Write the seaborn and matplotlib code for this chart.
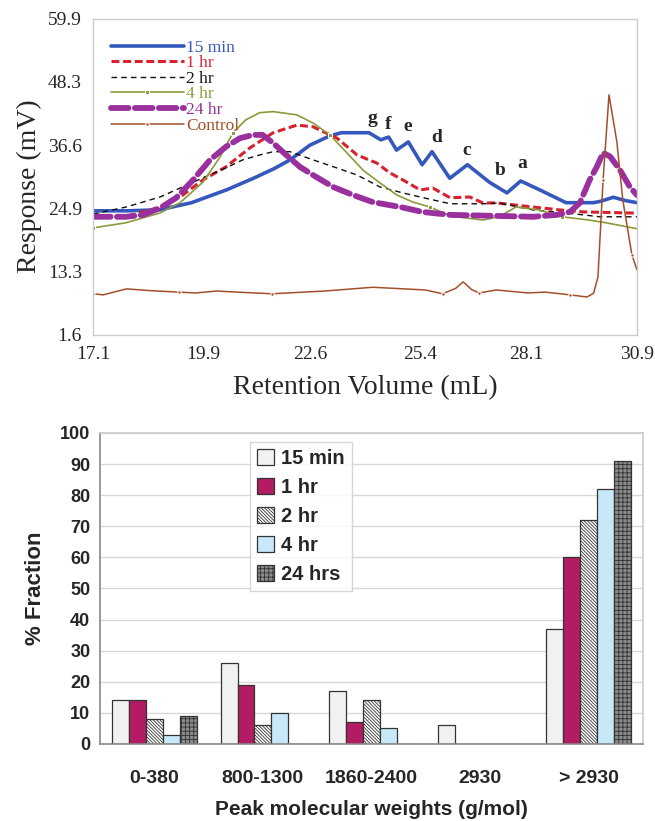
import matplotlib
matplotlib.use("Agg")
import matplotlib.pyplot as plt
from matplotlib.patches import Patch
import seaborn as sns
import numpy as np
import pandas as pd

# ---- top chart data ----
x_15min = [17.1, 18.0, 18.8, 19.6, 20.5, 21.2, 21.7, 22.1, 22.6, 23.1, 23.4, 23.8, 24.1, 24.4,
           24.6, 24.8, 25.1, 25.45, 25.7, 26.15, 26.6, 27.15, 27.6, 27.95, 28.45, 29.1, 29.8,
           30.0, 30.3, 30.6, 30.9]
y_15min = [24.5, 24.5, 24.7, 26.0, 28.4, 30.6, 32.3, 33.9, 36.6, 38.3, 38.9, 38.9, 38.9, 37.6,
           38.1, 35.7, 37.2, 33.0, 35.4, 30.5, 33.0, 29.8, 27.8, 30.0, 28.3, 26.0, 26.0,
           26.3, 27.0, 26.4, 26.0]

x_1hr = [17.1, 17.94, 18.8, 19.31, 19.89, 20.47, 21.08, 21.67, 22.27, 22.68, 23.29, 23.8, 24.3,
         24.63, 24.96, 25.4, 25.72, 26.16, 26.66, 26.99, 27.35, 28.26, 28.95, 29.53, 30.72, 30.9]
y_1hr = [23.75, 23.4, 25.2, 27.05, 30.2, 32.6, 36.1, 38.9, 40.3, 40.0, 37.9, 34.8, 33.3,
         31.5, 30.2, 28.35, 28.7, 26.9, 27.05, 25.95, 25.95, 25.2, 24.66, 24.3, 24.1, 24.1]

x_2hr = [17.1, 17.94, 18.8, 19.31, 19.89, 20.47, 20.9, 21.33, 21.67, 22.1, 22.68, 23.29, 23.8,
         24.38, 24.96, 25.4, 26.16, 26.99, 27.4, 28.26, 29.12, 29.95, 30.9]
y_2hr = [23.9, 25.2, 27.05, 28.7, 30.6, 32.4, 33.9, 34.8, 35.4, 35.4, 33.9, 32.4, 31.1,
         28.9, 27.8, 27.05, 25.8, 25.8, 25.95, 24.66, 24.1, 23.4, 23.4]

x_4hr = [17.1, 17.94, 18.8, 19.31, 19.89, 20.32, 20.65, 20.98, 21.33, 21.67, 22.27, 22.68,
         23.11, 23.54, 23.95, 24.38, 24.81, 25.22, 25.65, 26.16, 26.99, 27.4, 27.83, 28.41,
         28.99, 29.68, 30.11, 30.9]
y_4hr = [21.35, 22.3, 24.1, 26.0, 29.8, 34.4, 38.9, 41.3, 42.6, 42.8, 42.2, 40.7,
         38.5, 35.2, 32.0, 29.65, 27.4, 26.1, 25.2, 23.55, 22.8, 23.4, 25.2, 24.66,
         23.4, 22.8, 22.3, 21.2]

x_24hr = [17.1, 17.94, 18.37, 18.8, 19.21, 19.64, 20.07, 20.47, 20.83, 21.16, 21.4, 21.67,
          22.0, 22.35, 22.68, 23.19, 23.7, 24.2, 24.9, 25.45, 26.16, 27.4, 28.26, 28.87,
          29.2, 29.45, 29.7, 29.88, 30.04, 30.22, 30.47, 30.72, 30.9]
y_24hr = [23.4, 23.4, 23.75, 25.0, 26.9, 30.2, 33.9, 36.3, 37.9, 38.5, 38.5, 37.0,
          34.8, 32.6, 31.1, 28.9, 27.4, 26.1, 25.2, 24.3, 23.75, 23.55, 23.4, 23.75,
          24.3, 25.95, 30.2, 32.6, 35.2, 34.5, 32.0, 28.9, 27.4]

x_ctrl = [17.1, 17.36, 17.95, 18.5, 19.27, 19.71, 20.23, 20.77, 21.65, 22.97, 24.2, 25.53,
          25.97, 26.3, 26.49, 26.7, 26.89, 27.33, 28.13, 28.57, 29.2, 29.63, 29.8, 29.91,
          30.04, 30.19, 30.39, 30.54, 30.77, 30.9]
y_ctrl = [9.2, 9.0, 10.1, 9.8, 9.5, 9.35, 9.7, 9.5, 9.2, 9.7, 10.4, 9.9,
          9.2, 10.2, 11.4, 10.0, 9.35, 9.9, 9.35, 9.5, 9.0, 8.6, 9.3, 12.3,
          30.2, 45.9, 37.2, 26.5, 16.4, 13.6]

peak_letters = ["g", "f", "e", "d", "c", "b", "a"]
peak_x = [24.18, 24.58, 25.09, 25.83, 26.59, 27.42, 27.98]
peak_y = [41.6, 40.5, 40.0, 38.1, 35.7, 32.0, 33.3]

x_ticks_top = [17.1, 19.9, 22.6, 25.4, 28.1, 30.9]
y_ticks_top = [1.6, 13.3, 24.9, 36.6, 48.3, 59.9]

# ---- bottom chart data ----
mw_bins = ["0-380", "800-1300", "1860-2400", "2930", "> 2930"]
times = ["15 min", "1 hr", "2 hr", "4 hr", "24 hrs"]
frac_15min = [14, 26, 17, 6, 37]
frac_1hr = [14, 19, 7, 0, 60]
frac_2hr = [8, 6, 14, 0, 72]
frac_4hr = [3, 10, 5, 0, 82]
frac_24hr = [9, 0, 0, 0, 91]

sns.set_style("white")
plt.rcParams['font.family'] = ['Liberation Serif', 'DejaVu Serif']
plt.rcParams['hatch.linewidth'] = 0.6

fig = plt.figure(figsize=(6.55, 8.21), dpi=100)
ax1 = fig.add_axes([0.142, 0.592, 0.8305, 0.385])
ax2 = fig.add_axes([0.1527, 0.0938, 0.829, 0.3788])

# ---- top: chromatograms ----
series = [
    ("15 min", x_15min, y_15min, dict(color="#3558bd", lw=2.6, linestyle="-")),
    ("1 hr", x_1hr, y_1hr, dict(color="#d8202e", lw=2.2, dashes=(2.6, 1.2))),
    ("2 hr", x_2hr, y_2hr, dict(color="#111111", lw=1.0, dashes=(4.0, 3))),
    ("4 hr", x_4hr, y_4hr, dict(color="#8c9a3c", lw=1.2, linestyle="-", marker="s",
                                markersize=2.2, markevery=6)),
    ("24 hr", x_24hr, y_24hr, dict(color="#9a2f9e", lw=4.2, dashes=(3.0, 1.1),
                                   dash_capstyle="round")),
    ("Control", x_ctrl, y_ctrl, dict(color="#a3502a", lw=1.1, linestyle="-", marker="o",
                                     markersize=2.5, markevery=4)),
]
for name, xs, ys, kw in series:
    sns.lineplot(x=xs, y=ys, ax=ax1, label=name, sort=False, estimator=None, **kw)

for ch, px, py in zip(peak_letters, peak_x, peak_y):
    ax1.text(px, py, ch, ha="center", va="center", fontsize=14, fontweight="bold")

ax1.set_xlim(17.1, 30.9)
ax1.set_ylim(1.6, 59.9)
ax1.set_xticks(x_ticks_top)
ax1.set_yticks(y_ticks_top)
ax1.set_xticklabels([f"{v:.1f}" for v in x_ticks_top])
ax1.set_yticklabels([f"{v:.1f}" for v in y_ticks_top])
ax1.tick_params(axis="x", labelsize=14, length=3, color="#aaaaaa", direction="out", pad=5)
ax1.tick_params(axis="y", labelsize=14, length=3, color="#aaaaaa", direction="out", pad=5)
ax1.set_xlabel("Retention Volume (mL)", fontsize=20, labelpad=9)
ax1.set_ylabel("Response (mV)", fontsize=20, labelpad=7)
ax1.yaxis.set_label_coords(-0.093, 0.47)
for s in ax1.spines.values():
    s.set_color("#cccccc")
    s.set_linewidth(1)

leg = ax1.legend(loc="upper left", bbox_to_anchor=(0.033, 0.935), frameon=False,
                 fontsize=12.5, handlelength=4.2, handletextpad=0.15, labelspacing=-0.03,
                 borderaxespad=0, borderpad=0)
for txt, (_, _, _, kw) in zip(leg.get_texts(), series):
    txt.set_color(kw["color"])

# ---- bottom: grouped bars ----
df = pd.DataFrame({
    "bin": mw_bins * 5,
    "time": np.repeat(times, len(mw_bins)),
    "frac": frac_15min + frac_1hr + frac_2hr + frac_4hr + frac_24hr,
})
sns.barplot(data=df, x="bin", y="frac", hue="time", order=mw_bins, hue_order=times,
            width=0.78, ax=ax2, legend=False, errorbar=None, saturation=1)

faces = ["#f1f1f1", "#b31b63", "#ffffff", "#c6e8f8", "#8a8a8a"]
hatches = [None, None, "\\" * 10, None, "++++"]
for cont, fc, h in zip(ax2.containers, faces, hatches):
    for bar in cont:
        bar.set_facecolor(fc)
        bar.set_edgecolor("#333333")
        bar.set_linewidth(0.9)
        if h:
            bar.set_hatch(h)

bsans = ['Liberation Sans', 'DejaVu Sans']
ax2.set_ylim(0, 100)
ax2.set_yticks(range(0, 101, 10))
ax2.yaxis.grid(True, color="#d8d8d8", lw=1)
ax2.set_axisbelow(True)
ax2.set_xlim(-0.5, 4.5)
ax2.set_xticks(np.arange(-0.5, 5, 1), minor=True)
ax2.tick_params(axis="x", which="major", length=0, pad=19)
ax2.tick_params(axis="x", which="minor", length=5, color="#999999", direction="out")
ax2.tick_params(axis="y", length=4, color="#999999", direction="out", pad=3)
for lab in ax2.get_xticklabels():
    lab.set_family(bsans)
    lab.set_fontweight("bold")
    lab.set_fontsize(14)
for lab in ax2.get_yticklabels():
    lab.set_family(bsans)
    lab.set_fontweight("bold")
    lab.set_fontsize(13)
ax2.set_xlabel("Peak molecular weights (g/mol)", family=bsans, fontweight="bold",
               fontsize=15, labelpad=9)
ax2.set_ylabel("% Fraction", family=bsans, fontweight="bold", fontsize=16, labelpad=10)
for k, s in ax2.spines.items():
    s.set_color("#888888" if k in ("left", "bottom") else "#cccccc")
    s.set_linewidth(1.2)

handles = [Patch(facecolor=fc, edgecolor="#333333", hatch=h, lw=0.9)
           for fc, h in zip(faces, hatches)]
leg2 = ax2.legend(handles, times, loc="upper left", bbox_to_anchor=(0.276, 0.971),
                  prop=dict(family=bsans, weight="bold", size=14.5), frameon=True,
                  handlelength=0.85, handleheight=0.85, handletextpad=0.35,
                  labelspacing=0.5, borderpad=0.35, borderaxespad=0, fancybox=False)
leg2.get_frame().set_edgecolor("#cccccc")
leg2.get_frame().set_linewidth(1)

fig.savefig("out.png", dpi=100)
